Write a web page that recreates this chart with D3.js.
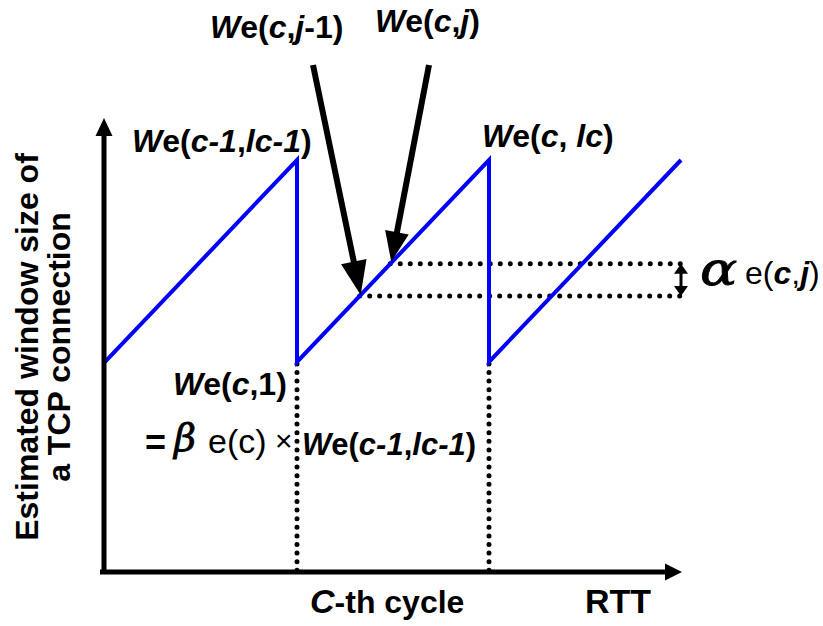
<!DOCTYPE html>
<html>
<head>
<meta charset="utf-8">
<script src="https://cdn.jsdelivr.net/npm/d3@7/dist/d3.min.js"></script>
<style>
  html, body { margin: 0; padding: 0; background: #fff; }
  svg { display: block; font-family: "Liberation Sans", Arial, sans-serif; }
</style>
</head>
<body>
<svg id="chart" width="823" height="626"></svg>
<script>
// Sawtooth of the estimated TCP window: RTT (in cycles) vs window size
const rttPoints    = [0, 1, 1, 2, 2, 3];
const windowPoints = [5.1, 10, 5.1, 10, 5.1, 10];
// cycle boundaries where the window is cut back
const cycleDrops = [1, 2];
// two consecutive window levels inside cycle c (j-1 and j)
const stepLevels = [6.7, 7.48];
const stepEnd = 3.03;

const svg = d3.select("#chart");
const x = d3.scaleLinear().domain([0, 3]).range([105, 681]);
const y = d3.scaleLinear().domain([0, 10]).range([572, 160]);

// position of a level on the rising slope of cycle c
const riseT = w => 1 + (w - windowPoints[2]) / (windowPoints[3] - windowPoints[2]);

function arrow(g, x1, y1, x2, y2, len, wid, sw) {
  const a = Math.atan2(y2 - y1, x2 - x1);
  const bx = x2 - len * Math.cos(a), by = y2 - len * Math.sin(a);
  const nx = -Math.sin(a) * wid / 2, ny = Math.cos(a) * wid / 2;
  g.append("line").attr("x1", x1).attr("y1", y1).attr("x2", bx + Math.cos(a) * 2).attr("y2", by + Math.sin(a) * 2)
    .attr("stroke", "#000").attr("stroke-width", sw);
  g.append("path").attr("d", `M${x2},${y2}L${bx + nx},${by + ny}L${bx - nx},${by - ny}Z`).attr("fill", "#000");
}

const dots = (sel, sw, gap) => sel.attr("stroke", "#000").attr("stroke-width", sw)
  .attr("stroke-linecap", "round").attr("stroke-dasharray", `0 ${gap}`).attr("fill", "none");

// vertical dotted markers at each drop
svg.selectAll(".drop").data(cycleDrops).join("line")
  .attr("class", "drop")
  .attr("x1", d => x(d)).attr("x2", d => x(d))
  .attr("y1", y(windowPoints[2]) + 2).attr("y2", y(0))
  .call(dots, 5, 8.6);

// horizontal dotted lines for the two levels
svg.selectAll(".level").data(stepLevels).join("line")
  .attr("class", "level")
  .attr("x1", d => x(riseT(d))).attr("x2", x(stepEnd))
  .attr("y1", d => y(d)).attr("y2", d => y(d))
  .call(dots, 5, 10);

// sawtooth
const line = d3.line().x((d, i) => x(rttPoints[i])).y(d => y(d));
svg.append("path").datum(windowPoints).attr("d", line)
  .attr("fill", "none").attr("stroke", "#0000ff").attr("stroke-width", 4)
  .attr("stroke-linejoin", "miter");

// axes
const ax = svg.append("g");
arrow(ax, 100, y(0), 682, y(0), 17, 17, 5);
arrow(ax, 104, y(0) + 2, 104, 118, 18, 17, 5);

// pointer arrows to the two levels
const ann = svg.append("g");
arrow(ann, 313, 65, x(riseT(stepLevels[0])) + 1, y(stepLevels[0]) - 1, 34, 26, 6);
arrow(ann, 429, 65, x(riseT(stepLevels[1])) + 1, y(stepLevels[1]) - 2, 30, 24, 6);

// small double arrow between the levels
const yTop = y(stepLevels[1]), yBot = y(stepLevels[0]);
ann.append("line").attr("x1", 681).attr("x2", 681).attr("y1", yTop + 6).attr("y2", yBot - 6)
  .attr("stroke", "#000").attr("stroke-width", 3);
ann.append("path").attr("d", `M681,${yTop}L674,${yTop + 10}L688,${yTop + 10}Z`).attr("fill", "#000");
ann.append("path").attr("d", `M681,${yBot}L674,${yBot - 10}L688,${yBot - 10}Z`).attr("fill", "#000");

// rich text helper: parts = [text, style] where style: i = bold italic, b = bold, r = regular
function label(xp, yp, parts, size) {
  const t = svg.append("text").attr("x", xp).attr("y", yp).attr("font-size", size);
  parts.forEach(([s, st, fs]) => {
    const ts = t.append("tspan").text(s)
      .attr("font-weight", st === "r" ? "normal" : "bold")
      .attr("font-style", st === "i" ? "italic" : "normal");
    if (fs) ts.attr("font-size", fs);
  });
  return t;
}

// Greek symbols drawn in an italic serif, slightly widened
function greek(xp, yp, s, size, sx) {
  return svg.append("text").attr("transform", `translate(${xp},${yp}) scale(${sx},1)`)
    .attr("font-size", size)
    .attr("font-family", "DejaVu Serif, serif").attr("font-style", "italic")
    .attr("stroke", "#000").attr("stroke-width", 0.8)
    .text(s);
}

label(210, 38, [["W", "i"], ["e(", "b"], ["c", "i"], [",", "b"], ["j", "i"], ["-1)", "b"]], 32);
label(375, 32, [["W", "i"], ["e(", "b"], ["c", "i"], [",", "b"], ["j", "i"], [")", "b"]], 32);
label(132, 152, [["W", "i"], ["e(", "b"], ["c-1", "i"], [",", "b"], ["lc-1", "i"], [")", "b"]], 32);
label(482, 147, [["W", "i"], ["e(", "b"], ["c", "i"], [", ", "b"], ["lc", "i"], [")", "b"]], 32);
label(173, 395, [["W", "i"], ["e(", "b"], ["c", "i"], [",1)", "b"]], 32);

label(145, 455, [["=", "b"]], 36);
greek(174, 451, "β", 38, 1.0);
label(208, 453, [["e(c)", "r"]], 34);
label(275, 451, [["×", "r"]], 30);
label(302, 455, [["W", "i"], ["e(", "b"], ["c-1", "i"], [",", "b"], ["lc-1", "i"], [")", "b"]], 31);

greek(700, 285, "α", 46, 1.2);
label(745, 284, [["e(", "r"], ["c", "i"], [",", "r"], ["j", "i"], [")", "r"]], 32);

label(310, 613, [["C", "i", 34], ["-th cycle", "b"]], 32);
label(585, 613, [["RTT", "b"]], 34);

// y-axis title
const yt = svg.append("text").attr("font-size", 32).attr("font-weight", "bold")
  .attr("text-anchor", "middle").attr("transform", "translate(0,347) rotate(-90)");
yt.append("tspan").attr("x", 0).attr("y", 38).text("Estimated window size of");
yt.append("tspan").attr("x", 0).attr("y", 70).text("a TCP connection");
</script>
</body>
</html>
